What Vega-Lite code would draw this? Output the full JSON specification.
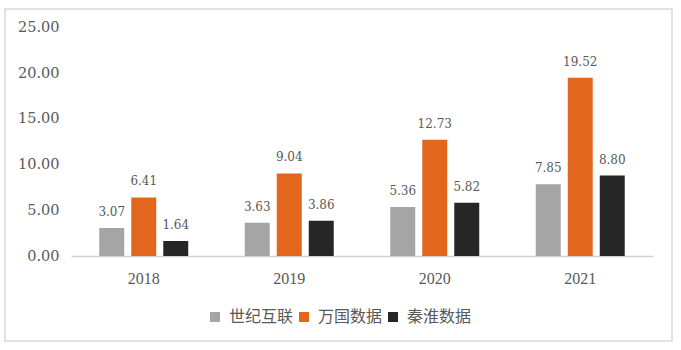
{
  "$schema": "https://vega.github.io/schema/vega-lite/v6.json",
  "width": 667,
  "height": 332,
  "autosize": "none",
  "padding": {"left": 5, "top": 9, "right": 9, "bottom": 9},
  "background": "white",
  "config": {
    "view": {"stroke": "#d9d9d9", "strokeWidth": 1.5},
    "axis": {"labelFont": "Liberation Serif", "labelColor": "#595959", "grid": false, "ticks": false}
  },
  "data": {
    "values": [
      {"year": "2018", "company": "世纪互联", "value": 3.07},
      {"year": "2018", "company": "万国数据", "value": 6.41},
      {"year": "2018", "company": "秦淮数据", "value": 1.64},
      {"year": "2019", "company": "世纪互联", "value": 3.63},
      {"year": "2019", "company": "万国数据", "value": 9.04},
      {"year": "2019", "company": "秦淮数据", "value": 3.86},
      {"year": "2020", "company": "世纪互联", "value": 5.36},
      {"year": "2020", "company": "万国数据", "value": 12.73},
      {"year": "2020", "company": "秦淮数据", "value": 5.82},
      {"year": "2021", "company": "世纪互联", "value": 7.85},
      {"year": "2021", "company": "万国数据", "value": 19.52},
      {"year": "2021", "company": "秦淮数据", "value": 8.80}
    ]
  },
  "encoding": {
    "x": {
      "field": "year", "type": "nominal",
      "scale": {"range": [66, 648], "paddingInner": 0, "paddingOuter": 0},
      "axis": {"title": null, "labelAngle": 0, "offset": -85, "domainColor": "#d0d0d0", "domainWidth": 1.5, "labelFontSize": 16, "labelPadding": 14}
    },
    "xOffset": {
      "field": "company", "type": "nominal",
      "sort": ["世纪互联", "万国数据", "秦淮数据"],
      "scale": {"paddingInner": 0.219, "paddingOuter": 0.883}
    },
    "y": {
      "field": "value", "type": "quantitative",
      "scale": {"domain": [0, 25], "range": [247, 18.6], "nice": false},
      "axis": {"title": null, "values": [0, 5, 10, 15, 20, 25], "format": ".2f", "domain": false, "offset": -66, "labelFont": "DejaVu Serif", "labelFontSize": 14.5, "labelPadding": 12}
    }
  },
  "layer": [
    {
      "mark": {"type": "bar"},
      "encoding": {
        "color": {
          "field": "company", "type": "nominal",
          "sort": ["世纪互联", "万国数据", "秦淮数据"],
          "scale": {"domain": ["世纪互联", "万国数据", "秦淮数据"], "range": ["#a5a5a5", "#e3661f", "#262626"]},
          "legend": {
            "title": null, "orient": "none", "direction": "horizontal",
            "legendX": 202, "legendY": 300,
            "symbolType": "square", "symbolSize": 100, "symbolStrokeWidth": 0,
            "labelFont": "Noto Sans CJK SC", "labelFontSize": 16, "labelColor": "#595959",
            "labelOffset": 6, "columnPadding": 2
          }
        }
      }
    },
    {
      "mark": {"type": "text", "baseline": "alphabetic", "dy": -12, "font": "DejaVu Serif", "fontSize": 12, "color": "#595959"},
      "encoding": {
        "text": {"field": "value", "type": "quantitative", "format": ".2f"}
      }
    }
  ]
}
